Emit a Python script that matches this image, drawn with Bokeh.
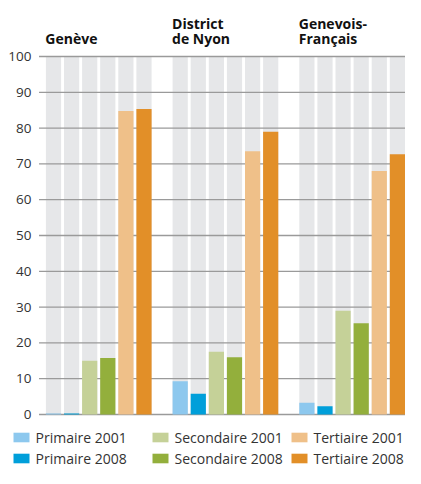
from bokeh.plotting import figure
from bokeh.models import ColumnDataSource, Legend, LegendItem
from bokeh.core.properties import value
from bokeh.embed import file_html
from bokeh.resources import INLINE

regions = ["Genève", "District\nde Nyon", "Genevois-\nFrançais"]
series = ["Primaire 2001", "Primaire 2008", "Secondaire 2001",
          "Secondaire 2008", "Tertiaire 2001", "Tertiaire 2008"]
primaire_2001 = [0.3, 9.3, 3.3]
primaire_2008 = [0.3, 5.8, 2.3]
secondaire_2001 = [15.0, 17.5, 29.0]
secondaire_2008 = [15.8, 16.0, 25.5]
tertiaire_2001 = [84.8, 73.5, 68.0]
tertiaire_2008 = [85.3, 79.0, 72.7]
y_ticks = [0, 10, 20, 30, 40, 50, 60, 70, 80, 90, 100]
y_tick_labels = [str(t) for t in y_ticks]

colors = ["#8DC8EE", "#009FDA", "#C5D198", "#93AF3C", "#EFC089", "#E28F28"]
values = [primaire_2001, primaire_2008, secondaire_2001,
          secondaire_2008, tertiaire_2001, tertiaire_2008]

FONT = "Open Sans"
GROUP_STEP = 7
BAR_W = 0.84
XS, XE = -2.928, 19.448        # x range of the frame (data units)
X0 = -0.8                      # left end of the grid lines

p = figure(width=405, height=468, output_backend="svg", toolbar_location=None,
           x_range=(XS, XE), y_range=(-15.08, 115.64),
           min_border_left=0, min_border_right=0, min_border_top=0,
           min_border_bottom=0)
p.outline_line_color = None
p.background_fill_color = "white"
p.border_fill_color = "white"
p.axis.visible = False
p.grid.visible = False

# gray background bars (to 100)
bg_x = [g * GROUP_STEP + i for g in range(len(regions)) for i in range(len(series))]
p.vbar(x=bg_x, top=100, bottom=0, width=BAR_W, fill_color="#E6E7E9", line_color=None)

# horizontal grid lines over the gray bars
p.segment(x0=[X0] * len(y_ticks), x1=[XE] * len(y_ticks), y0=y_ticks, y1=y_ticks,
          line_color="#9A9A9A", line_width=1.3)

# tick labels
p.text(x=[-1.215] * len(y_ticks), y=y_ticks, text=y_tick_labels,
       text_font=value(FONT), text_font_size="13.5px", text_color="#333333",
       text_align="right", text_baseline="middle")

items = []
for i, (name, vals, col) in enumerate(zip(series, values, colors)):
    src = ColumnDataSource(dict(x=[g * GROUP_STEP + i for g in range(len(regions))],
                                top=vals))
    r = p.vbar(x="x", top="top", bottom=0, width=BAR_W, source=src,
               fill_color=col, line_color=None)
    items.append(LegendItem(label=name, renderers=[r]))

# region titles
tsrc = ColumnDataSource(dict(x=[g * GROUP_STEP - 0.45 for g in range(len(regions))],
                             y=[102.5] * len(regions), text=regions))
p.text(x="x", y="y", text="text", source=tsrc, text_font=value(FONT),
       text_font_style="bold", text_font_size="14px", text_color="#111111",
       text_align="left", text_baseline="bottom", text_line_height=0.78)

legend = Legend(items=items, orientation="vertical", nrows=2,
                location=(10.5, 0.5), padding=0, margin=0, spacing=2,
                glyph_width=20, glyph_height=12, label_height=12,
                label_width=112, label_standoff=5,
                label_text_font=FONT, label_text_font_size="14px",
                label_text_color="#333333",
                border_line_color=None, background_fill_alpha=0)
p.add_layout(legend, "center")

open("out.html", "w").write(file_html(p, INLINE))
